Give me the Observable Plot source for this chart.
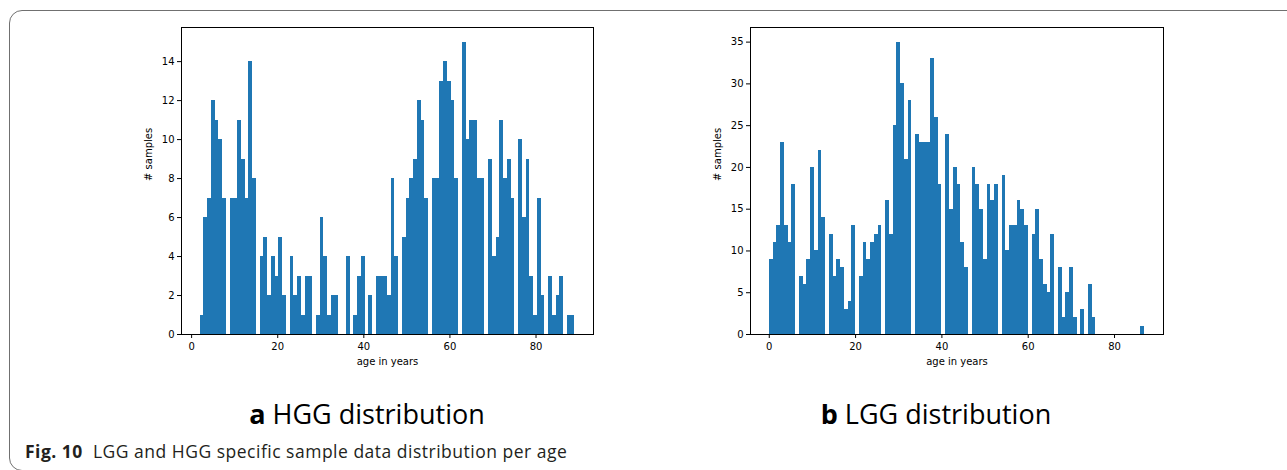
<!DOCTYPE html>
<html>
<head>
<meta charset="utf-8">
<script src="https://cdn.jsdelivr.net/npm/d3@7"></script>
<script src="https://cdn.jsdelivr.net/npm/@observablehq/plot@0.6"></script>
<style>
  html, body { margin: 0; padding: 0; background: #fff; overflow: hidden; }
  #page { position: relative; width: 1287px; height: 470px; overflow: hidden; }
  #box { position: absolute; left: 9px; top: 10px; width: 1300px; height: 459px;
         border: 1.5px solid #707070; border-radius: 13px; }
  .chart { position: absolute; top: 0; }
  .title { position: absolute; top: 400px; font-family: "Open Sans", "Noto Sans", sans-serif; font-size: 27px;
           line-height: 27px; color: #000; white-space: nowrap; transform: translateX(-50%); }
  .title b { font-weight: 700; }
  #caption { position: absolute; left: 25px; top: 443px; font-family: "Open Sans", "Noto Sans", sans-serif;
             font-size: 17.5px; line-height: 17px; color: #231f20; white-space: nowrap; letter-spacing: 0.5px; }
</style>
</head>
<body>
<div id="page">
  <div id="box"></div>
  <div id="left" class="chart" style="left:100px"></div>
  <div id="right" class="chart" style="left:670px"></div>
  <div class="title" style="left:367px"><b>a</b> HGG distribution</div>
  <div class="title" style="left:936px"><b>b</b> LGG distribution</div>
  <div id="caption"><b>Fig. 10</b>&nbsp; LGG and HGG specific sample data distribution per age</div>
</div>
<script>
// ---- data (100 histogram bins per panel) ----
const hggRange = [2, 89];
const hggCounts = [
  1, 6, 7, 12, 11, 10, 7, 0, 7, 7,
  11, 9, 7, 14, 8, 0, 4, 5, 2, 4,
  3, 5, 2, 0, 4, 2, 3, 1, 3, 3,
  0, 1, 6, 4, 1, 2, 2, 0, 0, 4,
  0, 1, 3, 4, 0, 2, 0, 3, 3, 3,
  2, 8, 4, 0, 5, 7, 8, 9, 12, 11,
  7, 0, 8, 8, 13, 14, 13, 12, 8, 0,
  15, 10, 11, 11, 8, 8, 0, 9, 4, 5,
  11, 8, 9, 7, 0, 10, 6, 9, 3, 1,
  7, 2, 0, 3, 1, 2, 3, 0, 1, 1
];
const lggRange = [0, 87];
const lggCounts = [
  9, 11, 13, 23, 13, 11, 18, 0, 7, 6,
  9, 20, 10, 22, 14, 0, 12, 7, 9, 8,
  3, 4, 13, 0, 7, 11, 9, 11, 12, 13,
  0, 16, 12, 25, 35, 30, 21, 28, 0, 24,
  23, 23, 23, 33, 26, 18, 0, 24, 15, 20,
  18, 11, 8, 0, 20, 18, 15, 9, 18, 16,
  18, 0, 19, 10, 13, 13, 16, 15, 13, 0,
  12, 15, 9, 6, 5, 12, 0, 8, 2, 5,
  8, 2, 0, 3, 0, 6, 2, 0, 0, 0,
  0, 0, 0, 0, 0, 0, 0, 0, 0, 1
];
const xTicks = [0, 20, 40, 60, 80];
const hggYTicks = [0, 2, 4, 6, 8, 10, 12, 14];
const lggYTicks = [0, 5, 10, 15, 20, 25, 30, 35];
const xLabel = "age in years";
const yLabel = "# samples";

function binsOf(range, counts) {
  const [lo, hi] = range;
  const w = (hi - lo) / counts.length;
  return counts.map((c, i) => ({ x1: lo + i * w, x2: lo + (i + 1) * w, count: c }));
}

function histogram(range, counts, yTicks, marginLeft) {
  const [lo, hi] = range;
  const pad = 0.05 * (hi - lo);
  const ymax = d3.max(counts) * 1.05;
  return Plot.plot({
    width: 520,
    height: 380,
    marginLeft: marginLeft,
    marginRight: 27,
    marginTop: 27,
    marginBottom: 46,
    style: { fontFamily: "DejaVu Sans", fontSize: "10px", color: "#000", background: "transparent", overflow: "visible" },
    x: { domain: [lo - pad, hi + pad], ticks: xTicks, tickSize: 4, tickPadding: 4, label: null },
    y: { domain: [0, ymax], ticks: yTicks, tickSize: 4, tickPadding: 3, label: null },
    marks: [
      Plot.rectY(binsOf(range, counts), {
        x1: "x1", x2: "x2", y: "count", fill: "#1f77b4",
        inset: 0, shapeRendering: "crispEdges"
      }),
      Plot.frame({ stroke: "#000", strokeWidth: 1 }),
      Plot.text([xLabel], { text: d => d, frameAnchor: "bottom", dy: 30, fontSize: 10, fill: "#000" }),
      Plot.text([yLabel], { text: d => d, frameAnchor: "left", dx: -33, rotate: -90, fontSize: 10, fill: "#000" })
    ]
  });
}

document.getElementById("left").appendChild(histogram(hggRange, hggCounts, hggYTicks, 81));
document.getElementById("right").appendChild(histogram(lggRange, lggCounts, lggYTicks, 80));
</script>
</body>
</html>
